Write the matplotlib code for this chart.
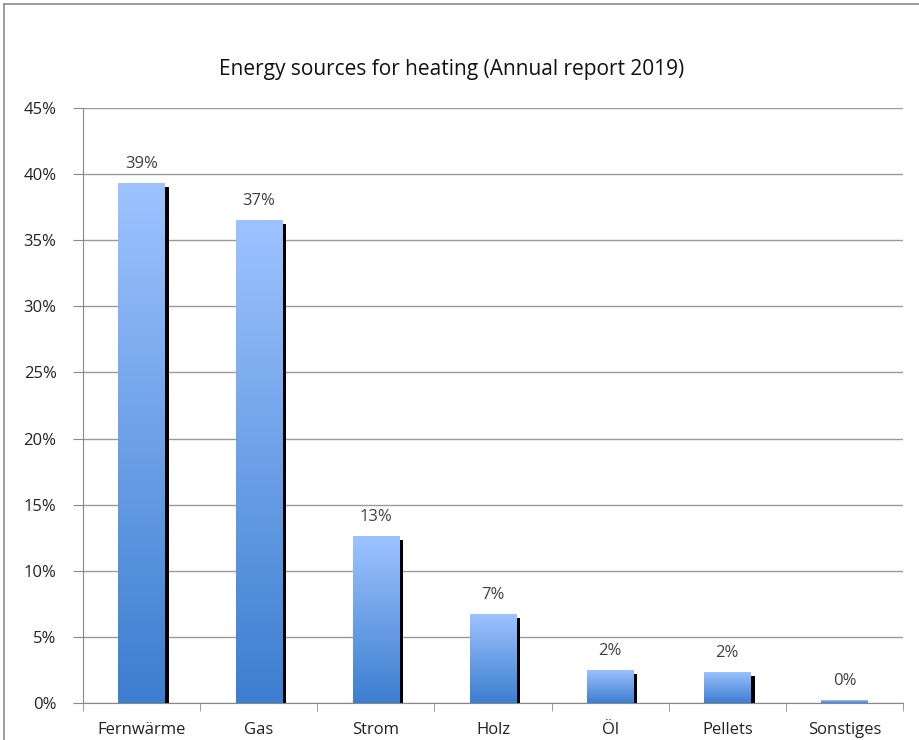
import numpy as np
import matplotlib.pyplot as plt
from matplotlib.colors import LinearSegmentedColormap
from matplotlib.lines import Line2D

categories = ['Fernwärme', 'Gas', 'Strom', 'Holz', 'Öl', 'Pellets', 'Sonstiges']
values = [39.3, 36.5, 12.6, 6.7, 2.5, 2.35, 0.2]
labels = ['39%', '37%', '13%', '7%', '2%', '2%', '0%']
yticks = [0, 5, 10, 15, 20, 25, 30, 35, 40, 45]

plt.rcParams['font.family'] = ['Open Sans', 'DejaVu Sans']

fig = plt.figure(figsize=(9.2, 7.4), dpi=100)
ax = fig.add_axes([83 / 920, 37 / 740, 820 / 920, 595 / 740])

cmap = LinearSegmentedColormap.from_list('bar', ['#3C7ED0', '#9DC3FF'])
grad = np.linspace(0, 1, 256).reshape(-1, 1)

x = np.arange(len(categories))
w = 0.395
sw = 0.035

# shadows first
for xi, v in zip(x, values):
    ax.bar(xi + w / 2 + sw / 2, max(0, v - 0.3), width=sw, color='black', zorder=2)

bars = ax.bar(x, values, width=w, color='none', zorder=3)
for b in bars:
    x0, y0 = b.get_x(), b.get_y()
    x1, y1 = x0 + b.get_width(), y0 + b.get_height()
    im = ax.imshow(grad, cmap=cmap, aspect='auto', origin='lower',
                   extent=(x0, x1, y0, y1), zorder=3)
    im.set_clip_path(b)

for xi, v, lab in zip(x, values, labels):
    ax.annotate(lab, (xi, v), xytext=(0, 8), textcoords='offset points',
                ha='center', va='bottom', fontsize=12, color='#404040')

ax.set_xlim(-0.5, len(categories) - 0.5)
ax.set_ylim(0, 45)
ax.set_yticks(yticks)
ax.set_yticklabels([f'{t}%' for t in yticks])
ax.yaxis.grid(True, color='#9a9a9a', linewidth=1)
ax.set_axisbelow(True)

ax.set_xticks(x)
ax.set_xticklabels(categories)
ax.set_xticks(np.arange(-0.5, len(categories), 1), minor=True)
ax.tick_params(axis='x', which='major', length=0, pad=14, labelsize=12, labelcolor='#222222')
ax.tick_params(axis='x', which='minor', length=6, color='#888888', direction='out')
ax.tick_params(axis='y', length=7, color='#888888', pad=12, labelsize=12, labelcolor='#222222')

for s in ['top', 'right']:
    ax.spines[s].set_visible(False)
ax.spines['left'].set_color('#888888')
ax.spines['bottom'].set_color('#888888')

fig.text(452 / 920, 1 - 70 / 740, 'Energy sources for heating (Annual report 2019)',
         ha='center', va='center', fontsize=15, color='#111111')

# outer chart frame (top and left edges visible)
fig.add_artist(Line2D([4 / 920, 1], [1 - 4 / 740, 1 - 4 / 740], color='#8c8c8c', lw=1.2,
                      transform=fig.transFigure))
fig.add_artist(Line2D([4 / 920, 4 / 920], [0, 1 - 4 / 740], color='#8c8c8c', lw=1.2,
                      transform=fig.transFigure))

fig.savefig('out.png', dpi=100)
